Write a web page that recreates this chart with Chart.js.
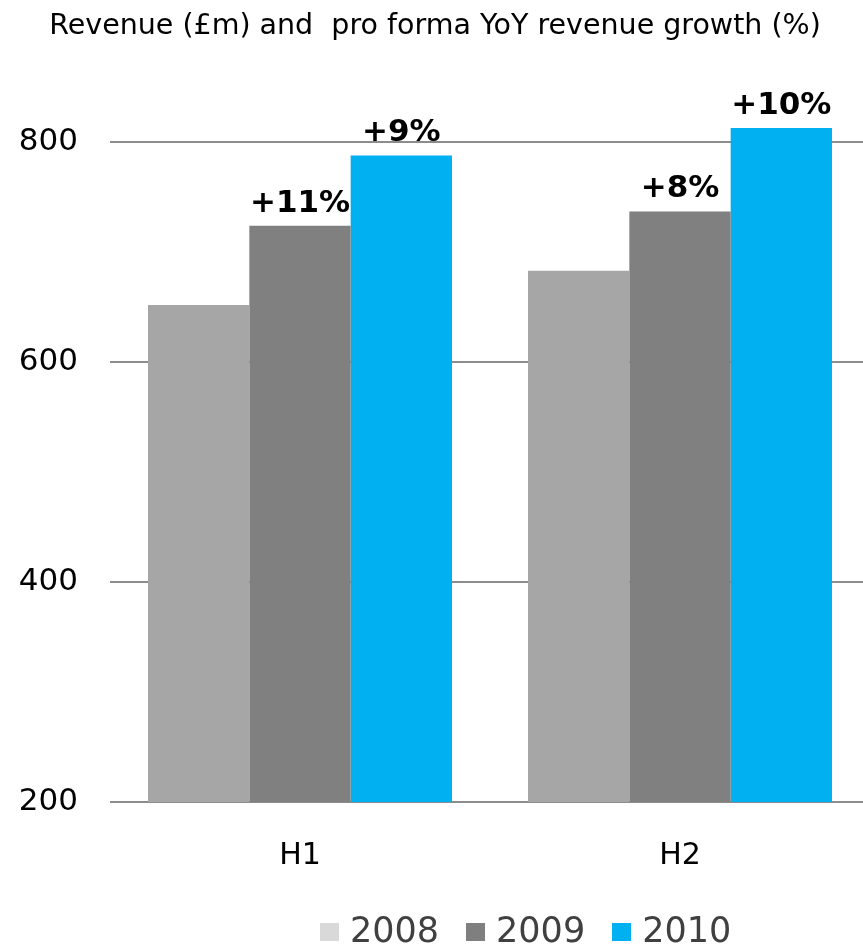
<!DOCTYPE html>
<html>
<head>
<meta charset="utf-8">
<script src="https://cdn.jsdelivr.net/npm/chart.js@4"></script>
<style>
  html, body { margin: 0; padding: 0; background: #fff; }
  #page { position: relative; width: 863px; height: 950px; overflow: hidden; }
  #wrap { position: absolute; left: 0; top: 0; width: 870px; height: 950px; }
  #legend {
    position: absolute; left: 320px; top: 913px;
    display: flex; align-items: center;
    font-family: "DejaVu Sans", Verdana, sans-serif; font-size: 35px; line-height: 35px;
    color: #404040;
  }
  #legend .item { display: flex; align-items: center; margin-right: 27px; }
  #legend .box { width: 19px; height: 18px; margin-right: 11px; margin-top: 2px; }
</style>
</head>
<body>
<div id="page">
  <div id="wrap"><canvas id="chart"></canvas></div>
  <div id="legend"></div>
</div>
<script>
const halves = ["H1", "H2"];
const years = ["2008", "2009", "2010"];
const rev2008 = [652, 683];
const rev2009 = [724, 737];
const rev2010 = [788, 813];
const yTicks = [200, 400, 600, 800];

const barColors = ["#a6a6a6", "#808080", "#00b0f0"];
const keyColors = ["#d9d9d9", "#7f7f7f", "#00b0f0"];
const series = [rev2008, rev2009, rev2010];

// growth on the previous year, shown above the 2009 and 2010 bars
function growthText(ds, i) {
  const prev = series[ds - 1][i];
  const pct = Math.round((series[ds][i] / prev - 1) * 100);
  return (pct >= 0 ? "+" : "") + pct + "%";
}

const growthLabels = {
  id: "growthLabels",
  afterDatasetsDraw(chart) {
    const ctx = chart.ctx;
    ctx.save();
    ctx.font = "bold 31px 'DejaVu Sans', Verdana, sans-serif";
    ctx.fillStyle = "#000";
    ctx.textAlign = "center";
    ctx.textBaseline = "alphabetic";
    for (let ds = 1; ds < series.length; ds++) {
      chart.getDatasetMeta(ds).data.forEach((bar, i) => {
        ctx.fillText(growthText(ds, i), bar.x, bar.y - 14);
      });
    }
    ctx.restore();
  }
};

new Chart(document.getElementById("chart"), {
  type: "bar",
  data: {
    labels: halves,
    datasets: years.map((y, k) => ({
      label: y,
      data: series[k],
      backgroundColor: barColors[k],
      borderWidth: 0,
      barPercentage: 1,
      categoryPercentage: 0.8
    }))
  },
  options: {
    responsive: true,
    maintainAspectRatio: false,
    animation: false,
    layout: { padding: 0 },
    plugins: {
      legend: { display: false },
      tooltip: { enabled: false },
      title: {
        display: true,
        text: "Revenue (£m) and  pro forma YoY revenue growth (%)",
        color: "#000",
        font: { family: "'DejaVu Sans', Verdana, sans-serif", size: 28.5, weight: "normal" },
        padding: { top: 9, bottom: 44 }
      }
    },
    scales: {
      x: {
        grid: { display: false },
        border: { display: false },
        ticks: {
          color: "#000",
          padding: 28,
          font: { family: "'DejaVu Sans', Verdana, sans-serif", size: 30 }
        },
        afterFit(scale) { scale.height = 148; }
      },
      y: {
        min: 200,
        max: 850,
        grid: { color: "#8c8c8c", lineWidth: 2, drawTicks: false },
        border: { display: false },
        ticks: {
          stepSize: 200,
          includeBounds: false,
          color: "#000",
          padding: 32,
          font: { family: "'DejaVu Sans', Verdana, sans-serif", size: 31 }
        },
        afterBuildTicks(scale) { scale.ticks = yTicks.map(v => ({ value: v })); },
        afterFit(scale) { scale.width = 110; }
      }
    }
  },
  plugins: [growthLabels]
});

const legend = document.getElementById("legend");
years.forEach((y, k) => {
  const item = document.createElement("div");
  item.className = "item";
  const box = document.createElement("span");
  box.className = "box";
  box.style.background = keyColors[k];
  const txt = document.createElement("span");
  txt.textContent = y;
  item.appendChild(box);
  item.appendChild(txt);
  legend.appendChild(item);
});
</script>
</body>
</html>
